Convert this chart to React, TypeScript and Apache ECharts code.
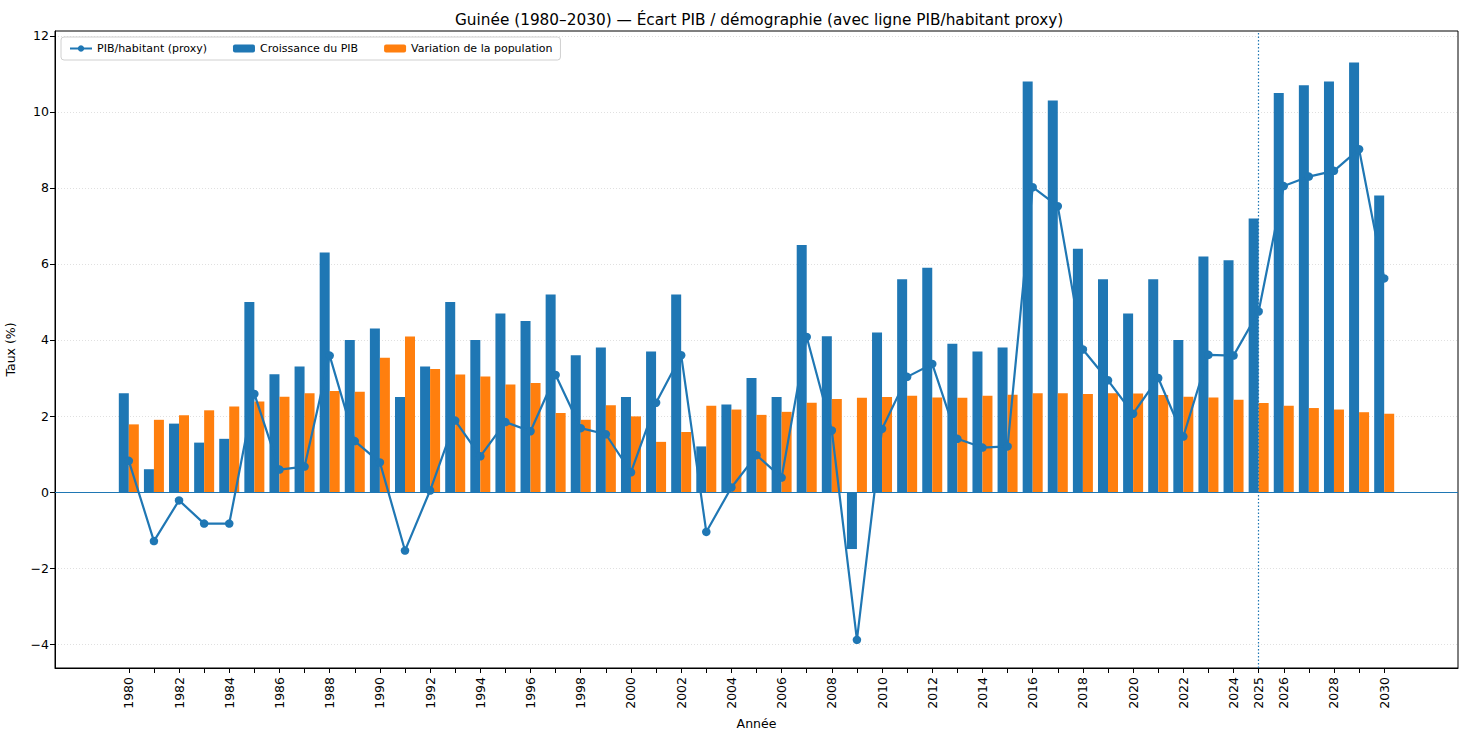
import React, { useEffect, useRef } from "react";
import * as echarts from "echarts";

const years: number[] = [];
for (let y = 1980; y <= 2030; y++) years.push(y);

const labelYears = [1980, 1982, 1984, 1986, 1988, 1990, 1992, 1994, 1996, 1998, 2000, 2002, 2004, 2006, 2008, 2010, 2012, 2014, 2016, 2018, 2020, 2022, 2024, 2025, 2026, 2028, 2030];
const yTicks = [-4, -2, 0, 2, 4, 6, 8, 10, 12];

const gdpGrowth = [
  2.6, 0.6, 1.8, 1.3, 1.4, 5.0, 3.1, 3.3, 6.3, 4.0,
  4.3, 2.5, 3.3, 5.0, 4.0, 4.7, 4.5, 5.2, 3.6, 3.8,
  2.5, 3.7, 5.2, 1.2, 2.3, 3.0, 2.5, 6.5, 4.1, -1.5,
  4.2, 5.6, 5.9, 3.9, 3.7, 3.8, 10.8, 10.3, 6.4, 5.6,
  4.7, 5.6, 4.0, 6.2, 6.1, 7.2, 10.5, 10.7, 10.8, 11.3,
  7.8,
];

const popGrowth = [
  1.78, 1.9, 2.02, 2.15, 2.25, 2.38, 2.51, 2.6, 2.66, 2.64,
  3.53, 4.09, 3.24, 3.09, 3.04, 2.83, 2.87, 2.08, 1.9, 2.28,
  1.99, 1.32, 1.58, 2.27, 2.17, 2.03, 2.11, 2.35, 2.45, 2.48,
  2.5, 2.53, 2.49, 2.48, 2.53, 2.56, 2.6, 2.6, 2.58, 2.6,
  2.59, 2.55, 2.51, 2.49, 2.43, 2.34, 2.27, 2.21, 2.17, 2.1,
  2.06,
];

const gdpPerCapita = [
  0.82, -1.29, -0.22, -0.83, -0.83, 2.58, 0.59, 0.67, 3.59, 1.34,
  0.78, -1.54, 0.04, 1.88, 0.94, 1.84, 1.6, 3.08, 1.68, 1.52,
  0.52, 2.35, 3.6, -1.05, 0.12, 0.97, 0.38, 4.08, 1.62, -3.89,
  1.66, 3.03, 3.37, 1.4, 1.17, 1.2, 8.02, 7.52, 3.75, 2.94,
  2.06, 3.0, 1.46, 3.61, 3.59, 4.75, 8.05, 8.3, 8.45, 9.02,
  5.62,
];

const BLUE = "#1f77b4";
const ORANGE = "#ff7f0e";
const FONT = "DejaVu Sans";

const fmtNum = (v: number) => (v < 0 ? "\u2212" + Math.abs(v) : String(v));

export default function App() {
  const ref = useRef<HTMLDivElement>(null);
  useEffect(() => {
    if (!ref.current) return;
    const chart = echarts.init(ref.current, undefined, { renderer: "svg" });
    chart.setOption({
      animation: false,
      backgroundColor: "#ffffff",
      textStyle: { fontFamily: FONT, color: "#000" },
      title: {
        text: "Guinée (1980–2030) — Écart PIB / démographie (avec ligne PIB/habitant proxy)",
        left: 450,
        top: 7,
        textStyle: { fontFamily: FONT, fontSize: 15.3, fontWeight: "normal", color: "#000" },
      },
      legend: {
        left: 61,
        top: 37,
        orient: "horizontal",
        data: ["PIB/habitant (proxy)", "Croissance du PIB", "Variation de la population"],
        itemWidth: 22,
        itemHeight: 8,
        itemGap: 26,
        padding: [6, 8],
        borderColor: "#d0d0d0",
        borderWidth: 1,
        borderRadius: 3,
        backgroundColor: "rgba(255,255,255,0.8)",
        textStyle: { fontFamily: FONT, fontSize: 11, color: "#000" },
      },
      grid: {
        left: 55,
        right: 10,
        top: 31,
        bottom: 71,
        outerBoundsMode: "none",
        containLabel: false,
        show: true,
        borderColor: "#000",
        borderWidth: 1,
        backgroundColor: "transparent",
      },
      xAxis: {
        type: "value",
        min: 1977.06,
        max: 2032.94,
        name: "Année",
        nameLocation: "middle",
        nameGap: 48,
        nameTextStyle: { fontFamily: FONT, fontSize: 12.5, color: "#000" },
        axisLine: { show: true, onZero: false, lineStyle: { color: "#000", width: 1 } },
        axisTick: { show: true, length: 5, lineStyle: { color: "#000" }, customValues: years },
        axisLabel: {
          customValues: labelYears,
          rotate: 90,
          margin: 9,
          fontSize: 12.5,
          fontFamily: FONT,
          color: "#000",
          formatter: (v: number) => String(v),
        },
        splitLine: { show: false },
      },
      yAxis: {
        type: "value",
        min: -4.63,
        max: 12.13,
        name: "Taux (%)",
        nameLocation: "middle",
        nameGap: 38,
        nameRotate: 90,
        nameTextStyle: { fontFamily: FONT, fontSize: 12.5, color: "#000" },
        axisLine: { show: true, lineStyle: { color: "#000", width: 1 } },
        axisTick: { show: true, length: 5, lineStyle: { color: "#000" }, customValues: yTicks },
        axisLabel: {
          customValues: yTicks,
          margin: 6,
          fontSize: 12.5,
          fontFamily: FONT,
          color: "#000",
          formatter: (v: number) => fmtNum(v),
        },
        splitLine: { show: true, lineStyle: { type: [1, 2], color: "#d8d8d8", width: 0.8 } },
      },
      series: [
        {
          name: "Croissance du PIB",
          type: "bar",
          data: years.map((y, i) => [y, gdpGrowth[i]]),
          barWidth: 10,
          barGap: "0%",
          itemStyle: { color: BLUE },
          z: 2,
        },
        {
          name: "Variation de la population",
          type: "bar",
          data: years.map((y, i) => [y, popGrowth[i]]),
          barWidth: 10,
          barGap: "0%",
          itemStyle: { color: ORANGE },
          z: 2,
        },
        {
          name: "PIB/habitant (proxy)",
          type: "line",
          data: years.map((y, i) => [y, gdpPerCapita[i]]),
          symbol: "circle",
          symbolSize: 8.5,
          showAllSymbol: true,
          itemStyle: { color: BLUE },
          lineStyle: { color: BLUE, width: 2.2 },
          z: 5,
          markLine: {
            silent: true,
            symbol: "none",
            label: { show: false },
            animation: false,
            data: [
              { yAxis: 0, lineStyle: { color: BLUE, width: 1.2, type: "solid" } },
              { xAxis: 2025, lineStyle: { color: BLUE, width: 1.2, type: [1.5, 2] } },
            ],
          },
        },
      ],
    });
    return () => chart.dispose();
  }, []);
  return (
    <div
      ref={ref}
      style={{ position: "fixed", left: 0, top: 0, width: 1468, height: 739, background: "#fff" }}
    />
  );
}
